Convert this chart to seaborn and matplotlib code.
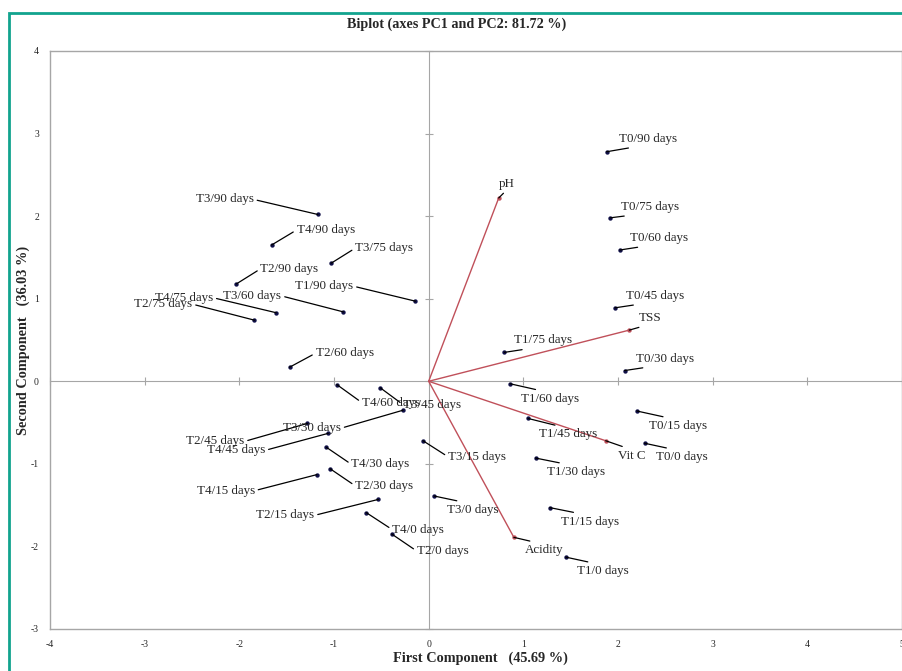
import matplotlib
matplotlib.use('Agg')
import matplotlib.pyplot as plt
import seaborn as sns
import pandas as pd
from matplotlib.patches import Rectangle

# observations (scores on PC1 / PC2)
obs_labels = ['T0/0 days', 'T0/15 days', 'T0/30 days', 'T0/45 days', 'T0/60 days', 'T0/75 days', 'T0/90 days',
              'T1/0 days', 'T1/15 days', 'T1/30 days', 'T1/45 days', 'T1/60 days', 'T1/75 days', 'T1/90 days',
              'T2/0 days', 'T2/15 days', 'T2/30 days', 'T2/45 days', 'T2/60 days', 'T2/75 days', 'T2/90 days',
              'T3/0 days', 'T3/15 days', 'T3/30 days', 'T3/45 days', 'T3/60 days', 'T3/75 days', 'T3/90 days',
              'T4/0 days', 'T4/15 days', 'T4/30 days', 'T4/45 days', 'T4/60 days', 'T4/75 days', 'T4/90 days']
obs_pc1 = [2.28, 2.20, 2.07, 1.97, 2.02, 1.92, 1.88,
           1.45, 1.28, 1.13, 1.05, 0.86, 0.80, -0.14,
           -0.39, -0.53, -1.04, -1.28, -1.47, -1.84, -2.03,
           0.06, -0.06, -0.27, -0.51, -0.90, -1.03, -1.17,
           -0.66, -1.18, -1.08, -1.06, -0.97, -1.61, -1.66]
obs_pc2 = [-0.75, -0.36, 0.13, 0.89, 1.59, 1.98, 2.78,
           -2.13, -1.53, -0.93, -0.45, -0.03, 0.35, 0.97,
           -1.85, -1.43, -1.06, -0.51, 0.17, 0.74, 1.18,
           -1.39, -0.72, -0.35, -0.08, 0.84, 1.43, 2.02,
           -1.59, -1.13, -0.80, -0.63, -0.04, 0.83, 1.65]

# variables (loadings)
var_labels = ['pH', 'TSS', 'Vit C', 'Acidity']
var_pc1 = [0.74, 2.12, 1.87, 0.90]
var_pc2 = [2.22, 0.62, -0.72, -1.89]

# where each label sits relative to its point (pixels), and on which side
label_layout = {
    'T0/90 days': (41, 7, 'above'), 'T0/75 days': (40, 5, 'above'), 'T0/60 days': (39, 6, 'above'),
    'T0/45 days': (40, 6, 'above'), 'T0/30 days': (40, 6, 'above'), 'T1/75 days': (39, 6, 'above'),
    'TSS': (21, 6, 'above'), 'pH': (8, 8, 'above'),
    'T1/60 days': (40, -9, 'below'), 'T0/15 days': (41, -9, 'below'), 'T1/45 days': (40, -10, 'below'),
    'Vit C': (26, -9, 'below'), 'T0/0 days': (37, -8, 'below'), 'T1/30 days': (40, -8, 'below'),
    'T1/15 days': (40, -8, 'below'), 'Acidity': (30, -7, 'below'), 'T1/0 days': (37, -8, 'below'),
    'T3/0 days': (38, -8, 'below'),
    'T4/90 days': (25, 15, 'right'), 'T3/75 days': (24, 15, 'right'), 'T2/90 days': (24, 15, 'right'),
    'T2/60 days': (26, 14, 'right'), 'T4/60 days': (25, -18, 'right'), 'T3/45 days': (23, -17, 'right'),
    'T4/30 days': (25, -17, 'right'), 'T2/30 days': (25, -17, 'right'), 'T4/0 days': (26, -17, 'right'),
    'T2/0 days': (25, -17, 'right'), 'T3/15 days': (25, -16, 'right'),
    'T3/90 days': (-64, 15, 'left'), 'T1/90 days': (-62, 15, 'left'), 'T3/60 days': (-62, 16, 'left'),
    'T4/75 days': (-63, 15, 'left'), 'T2/75 days': (-62, 16, 'left'), 'T3/30 days': (-62, -18, 'left'),
    'T2/45 days': (-63, -18, 'left'), 'T4/45 days': (-63, -17, 'left'), 'T4/15 days': (-62, -16, 'left'),
    'T2/15 days': (-64, -16, 'left'),
}
sides = {
    'above': ('center', 'bottom', (0.5, 0.0)),
    'below': ('center', 'top', (0.5, 1.0)),
    'right': ('left', 'center', (0.0, 0.5)),
    'left': ('right', 'center', (1.0, 0.5)),
}

sns.set_style('white')
plt.rcParams['font.family'] = ['Liberation Serif', 'DejaVu Serif']
plt.rcParams['axes.unicode_minus'] = False

grey = '#a6a6a6'
red = '#c0505a'
navy = '#101048'

fig = plt.figure(figsize=(9.02, 6.71), dpi=100)
ax = fig.add_axes([50 / 902, 1 - 629 / 671, (902 - 50) / 902, (629 - 51) / 671])

obs_df = pd.DataFrame({'label': obs_labels, 'pc1': obs_pc1, 'pc2': obs_pc2})
var_df = pd.DataFrame({'label': var_labels, 'pc1': var_pc1, 'pc2': var_pc2})

for x, y in zip(var_pc1, var_pc2):
    ax.plot([0, x], [0, y], color=red, lw=1, zorder=2)

sns.scatterplot(data=obs_df, x='pc1', y='pc2', ax=ax, color=navy, s=10, linewidth=0, zorder=4)
sns.scatterplot(data=var_df, x='pc1', y='pc2', ax=ax, color=red, s=10, linewidth=0, zorder=4)

for df in (obs_df, var_df):
    for lab, x, y in zip(df['label'], df['pc1'], df['pc2']):
        dx, dy, side = label_layout[lab]
        ha, va, rel = sides[side]
        ax.annotate(lab, (x, y), xytext=(dx, dy), textcoords='offset pixels', ha=ha, va=va,
                    fontsize=9.4, zorder=5,
                    arrowprops=dict(arrowstyle='-', color='black', lw=0.9, relpos=rel,
                                    shrinkA=0, shrinkB=0))

ax.set_xlim(-4, 5)
ax.set_ylim(-3, 4)
ax.set_xticks(range(-4, 6))
ax.set_yticks(range(-3, 5))
ax.tick_params(length=0, labelsize=7, pad=8)
for sp in ax.spines.values():
    sp.set_color(grey)
    sp.set_linewidth(1)
ax.set_xlabel('First Component   (45.69 %)', fontweight='bold', fontsize=10.3)
ax.set_ylabel('Second Component   (36.03 %)', fontweight='bold', fontsize=10.3)
ax.xaxis.set_label_coords((480 - 50) / 852, -(652 - 629) / 578)
ax.yaxis.set_label_coords(-(50 - 30) / 852, 0.5)

# axes through the origin with small ticks
sx = ax.secondary_xaxis(3 / 7)
sx.set_xticks(range(-4, 6))
sx.tick_params(axis='x', direction='inout', length=6, color=grey, labeltop=False, labelbottom=False)
for sp in sx.spines.values():
    sp.set_color(grey)
sy = ax.secondary_yaxis(4 / 9)
sy.set_yticks(range(-3, 5))
sy.tick_params(axis='y', direction='inout', length=6, color=grey, labelleft=False, labelright=False)
for sp in sy.spines.values():
    sp.set_color(grey)

fig.text(457 / 902, 1 - 24 / 671, 'Biplot (axes PC1 and PC2: 81.72 %)', ha='center', va='center',
         fontweight='bold', fontsize=10.2)

fig.patches.append(Rectangle((9 / 902, -0.2), 1.2, (671 - 13) / 671 + 0.2, transform=fig.transFigure,
                             fill=False, edgecolor='#12a38e', lw=2))

fig.savefig('out.png', dpi=100)
